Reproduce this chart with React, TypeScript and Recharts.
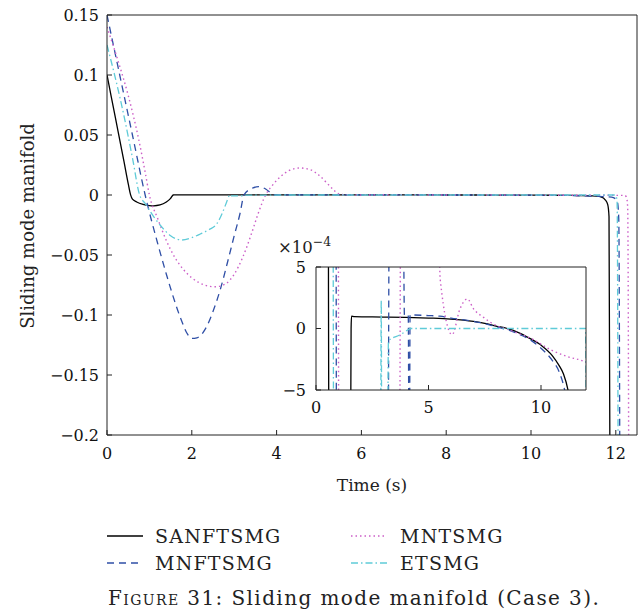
import { LineChart, Line, XAxis, YAxis, CartesianGrid } from 'recharts'

// series names, in legend order
const SERIES_NAMES = ['SANFTSMG', 'MNFTSMG', 'MNTSMG', 'ETSMG']

// [time (s), sliding mode manifold]
const SANFTSMG: [number, number][] = [
  [0, 0.1], [0.2, 0.064], [0.4, 0.028], [0.5, 0.0095], [0.555, 0.0003], [0.6, -0.0035],
  [0.7, -0.0058], [0.85, -0.0078], [1.0, -0.0088], [1.1, -0.009], [1.25, -0.0083],
  [1.4, -0.0058], [1.5, -0.0028], [1.56, 0], [1.58, 0.0001], [1.7, 0.000096],
  [3, 0.000093], [4, 0.00009], [5, 0.000085], [6, 0.000077], [7, 0.000058],
  [7.5, 0.000042], [8, 0.00002], [8.5, 0], [9, -0.000033], [9.5, -0.00008],
  [10, -0.000135], [10.5, -0.00022], [10.8, -0.0003], [11, -0.00037], [11.2, -0.0005],
  [11.4, -0.00075], [11.55, -0.001], [11.65, -0.0016], [11.75, -0.004], [11.81, -0.008],
  [11.84, -0.018], [11.87, -0.3],
]

const MNFTSMG: [number, number][] = [
  [0, 0.15], [0.3, 0.1], [0.6, 0.05], [0.9, 0], [1.2, -0.041], [1.4, -0.066],
  [1.6, -0.089], [1.75, -0.104], [1.9, -0.116], [2.0, -0.1195], [2.12, -0.119],
  [2.36, -0.109], [2.5, -0.097], [2.67, -0.079], [2.85, -0.055], [3.0, -0.034],
  [3.14, -0.015], [3.23, 0], [3.4, 0.0052], [3.58, 0.0069], [3.75, 0.0048],
  [3.88, 0.0012], [3.93, 0.00011], [4.1, 0.00011], [4.13, -0.0008], [4.16, -0.0008],
  [4.18, 0.00011], [5, 0.000105], [5.5, 0.0001], [6, 0.000085], [7, 0.000058],
  [7.5, 0.00004], [8, 0.000015], [8.5, -0.00001], [9, -0.000045], [9.5, -0.00009],
  [10, -0.00016], [10.5, -0.00026], [10.8, -0.00035], [11.05, -0.0005], [11.3, -0.0008],
  [11.6, -0.0012], [11.9, -0.0018], [11.98, -0.0028], [12.04, -0.006], [12.07, -0.02],
  [12.1, -0.3],
]

const MNTSMG: [number, number][] = [
  [0, 0.14], [0.25, 0.113], [0.5, 0.083], [0.75, 0.046], [0.9, 0.019], [1.0, 0],
  [1.2, -0.02], [1.4, -0.038], [1.6, -0.052], [1.8, -0.062], [2.0, -0.069],
  [2.3, -0.075], [2.55, -0.0765], [2.8, -0.074], [3.0, -0.066], [3.2, -0.052],
  [3.4, -0.033], [3.55, -0.017], [3.74, 0], [3.9, 0.008], [4.1, 0.0155], [4.3, 0.0205],
  [4.55, 0.0225], [4.8, 0.021], [5.0, 0.0165], [5.2, 0.0095], [5.35, 0.004],
  [5.47, 0.0008], [5.52, 0.0004], [6.05, -0.00005], [6.4, 0.00016], [6.73, 0.00024],
  [7.0, 0.00016], [7.45, 0.00009], [8.0, 0.000025], [8.5, -0.000005], [9.0, -0.00004],
  [9.55, -0.00008], [10.45, -0.000175], [11.2, -0.00023], [11.93, -0.00027],
  [12.2, -0.0003], [12.25, -0.0015], [12.28, -0.01], [12.31, -0.3],
]

const ETSMG: [number, number][] = [
  [0, 0.125], [0.2, 0.097], [0.4, 0.066], [0.6, 0.031], [0.77, 0], [0.9, -0.007],
  [1.1, -0.018], [1.3, -0.027], [1.5, -0.034], [1.77, -0.0375], [2.0, -0.0355],
  [2.2, -0.0325], [2.4, -0.029], [2.6, -0.0235], [2.72, -0.015], [2.82, -0.006],
  [2.88, -0.0006], [2.9, 0.00023], [2.92, -0.0008], [3.18, -0.0008], [3.22, -0.0001],
  [3.75, -0.00005], [4.1, -0.00001], [4.2, 0], [11.98, 0], [12.0, -0.0006],
  [12.03, -0.005], [12.06, -0.3],
]

const X_TICKS = [0, 2, 4, 6, 8, 10, 12]
const Y_TICKS = [-0.2, -0.15, -0.1, -0.05, 0, 0.05, 0.1, 0.15]
const INSET_X_TICKS = [0, 5, 10]
const INSET_Y_TICKS = [-0.0005, 0, 0.0005]

const FONT = '"DejaVu Serif", serif'
const AXIS = '#222'

const STYLES = [
  { color: '#000000', dash: undefined, width: 1.3 },
  { color: '#2f4fa6', dash: '7 5', width: 1.3 },
  { color: '#cc5fc8', dash: '1.5 3', width: 1.4 },
  { color: '#5fcbd8', dash: '7 3 1.5 3', width: 1.3 },
]

const toRows = (pts: [number, number][]) => pts.map(([t, v]) => ({ t, v }))
const SERIES = [SANFTSMG, MNFTSMG, MNTSMG, ETSMG].map(toRows)

const minus = (s: string) => s.replace('-', '\u2212')

function lines() {
  return SERIES.map((data, i) => (
    <Line
      key={SERIES_NAMES[i]}
      name={SERIES_NAMES[i]}
      data={data}
      dataKey="v"
      type="monotone"
      stroke={STYLES[i].color}
      strokeWidth={STYLES[i].width}
      strokeDasharray={STYLES[i].dash}
      dot={false}
      activeDot={false}
      isAnimationActive={false}
    />
  ))
}

const tickStyle = { fill: '#111', fontSize: 16, fontFamily: FONT }

export default function App() {
  return (
    <div style={{ position: 'absolute', left: 0, top: 0, width: 640, height: 611, background: '#fff', fontFamily: FONT, color: '#222' }}>
      <LineChart width={640} height={470} margin={{ top: 14, right: 2, bottom: 0, left: 47 }}>
        <XAxis type="number" dataKey="t" domain={[0, 12.5]} ticks={X_TICKS} allowDataOverflow
          height={35} tickSize={-5} tickMargin={18} stroke={AXIS} tick={tickStyle} />
        <XAxis xAxisId="top" orientation="top" type="number" dataKey="t" domain={[0, 12.5]} ticks={X_TICKS}
          allowDataOverflow height={1} tickSize={-5} tick={false} stroke={AXIS} />
        <YAxis type="number" domain={[-0.2, 0.15]} ticks={Y_TICKS} allowDataOverflow width={60}
          tickSize={-5} tickMargin={13} stroke={AXIS} tick={tickStyle}
          tickFormatter={(v: number) => minus(String(v))} />
        <YAxis yAxisId="right" orientation="right" type="number" domain={[-0.2, 0.15]} ticks={Y_TICKS}
          allowDataOverflow width={1} tickSize={-5} tick={false} stroke={AXIS} />
        {lines()}
      </LineChart>

      <div style={{ position: 'absolute', left: 256, top: 247 }}>
        <LineChart width={334} height={173} margin={{ top: 19, right: 3, bottom: 0, left: 10 }}>
          <CartesianGrid horizontal={false} vertical={false} fill="#fff" />
          <XAxis type="number" dataKey="t" domain={[0, 12]} ticks={INSET_X_TICKS} allowDataOverflow
            height={30} tickSize={-5} tickMargin={17} stroke={AXIS} tick={tickStyle} />
          <XAxis xAxisId="top" orientation="top" type="number" dataKey="t" domain={[0, 12]} ticks={INSET_X_TICKS}
            allowDataOverflow height={1} tickSize={-5} tick={false} stroke={AXIS} />
          <YAxis type="number" domain={[-0.0005, 0.0005]} ticks={INSET_Y_TICKS} allowDataOverflow width={50}
            tickSize={-5} tickMargin={15} stroke={AXIS} tick={tickStyle}
            tickFormatter={(v: number) => minus(String(Math.round(v * 1e4)))} />
          <YAxis yAxisId="right" orientation="right" type="number" domain={[-0.0005, 0.0005]} ticks={INSET_Y_TICKS}
            allowDataOverflow width={1} tickSize={-5} tick={false} stroke={AXIS} />
          {lines()}
        </LineChart>
      </div>

      <div style={{ position: 'absolute', left: 278, top: 238, fontSize: 16.5, lineHeight: '20px', whiteSpace: 'nowrap' }}>
        ×10<span style={{ fontSize: 12.5, position: 'relative', top: -7 }}>−4</span>
      </div>

      <div style={{ position: 'absolute', left: 27, top: 226, transform: 'translate(-50%, -50%) rotate(-90deg)', fontSize: 18, whiteSpace: 'nowrap' }}>
        Sliding mode manifold
      </div>
      <div style={{ position: 'absolute', left: 372, top: 485, transform: 'translate(-50%, -50%)', fontSize: 17, whiteSpace: 'nowrap' }}>
        Time (s)
      </div>

      {SERIES_NAMES.map((name, i) => {
        const col = i === 0 || i === 1 ? 0 : 1
        const row = i === 0 || i === 2 ? 0 : 1
        const x = col === 0 ? 107 : 351
        const y = row === 0 ? 536 : 563
        return (
          <div key={name} style={{ position: 'absolute', left: x, top: y - 12, height: 24, display: 'flex', alignItems: 'center', whiteSpace: 'nowrap' }}>
            <svg width={36} height={6} style={{ marginRight: col === 0 ? 12 : 13 }}>
              <line x1={0} y1={3} x2={36} y2={3} stroke={STYLES[i].color} strokeWidth={STYLES[i].width} strokeDasharray={STYLES[i].dash} />
            </svg>
            <span style={{ fontSize: 19, letterSpacing: 1.2 }}>{name}</span>
          </div>
        )
      })}

      <div style={{ position: 'absolute', left: 108, top: 598, transform: 'translateY(-50%)', fontSize: 20, letterSpacing: 1.4, whiteSpace: 'nowrap' }}>
        <span style={{ fontVariant: 'small-caps' }}>Figure</span> 31: Sliding mode manifold (Case 3).
      </div>
    </div>
  )
}
